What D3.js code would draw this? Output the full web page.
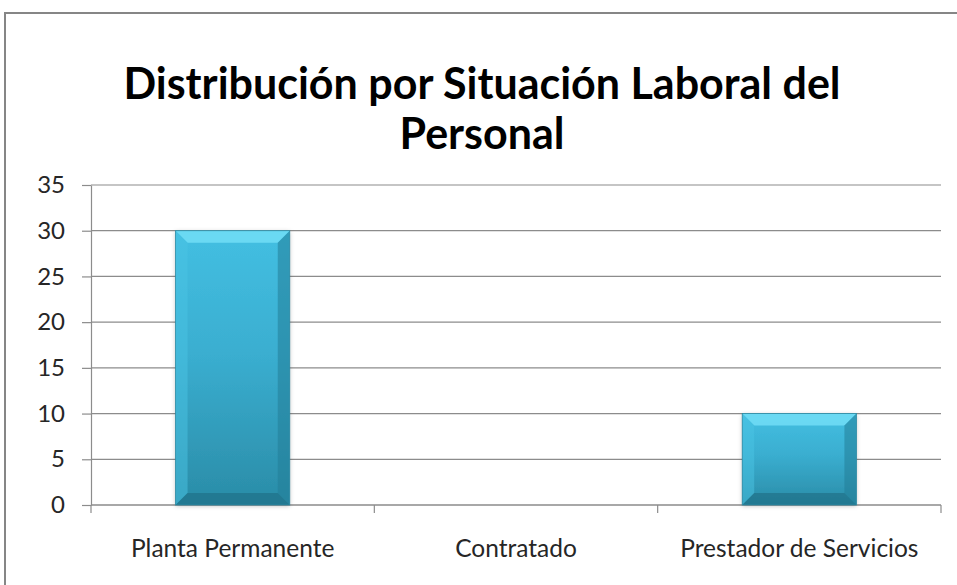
<!DOCTYPE html>
<html><head><meta charset="utf-8">
<script src="https://cdn.jsdelivr.net/npm/d3@7"></script>
<style>html,body{margin:0;padding:0;background:#fff;}svg{display:block;}</style>
</head><body>
<svg id="c" width="957" height="585"></svg>
<script>
const titleLines = ["Distribución por Situación Laboral del", "Personal"];
const categories = ["Planta Permanente", "Contratado", "Prestador de Servicios"];
const values = [30, 0, 10];
const yTicks = [0, 5, 10, 15, 20, 25, 30, 35];

const svg = d3.select("#c");
const W = 957, H = 585;
const m = {left: 91, right: 941, top: 185, bottom: 505};
const font = "Lato, 'Open Sans', sans-serif";

// chart border
svg.append("rect").attr("x", 5).attr("y", 13).attr("width", W + 20).attr("height", H + 20)
  .attr("fill", "#fff").attr("stroke", "#868686").attr("stroke-width", 2);

const x = d3.scaleBand().domain(categories).range([m.left, m.right]).padding(0);
const y = d3.scaleLinear().domain([0, 35]).range([m.bottom, m.top]);

// gridlines
svg.append("g").selectAll("line").data(yTicks).join("line")
  .attr("x1", m.left).attr("x2", m.right)
  .attr("y1", d => y(d)).attr("y2", d => y(d))
  .attr("stroke", "#8c8c8c").attr("stroke-width", 1.2);

// y axis
const yAxis = svg.append("g").attr("transform", `translate(${m.left},0)`)
  .call(d3.axisLeft(y).tickValues(yTicks).tickSize(9).tickPadding(17).tickSizeOuter(0));
yAxis.select(".domain").attr("stroke", "#8c8c8c").attr("stroke-width", 1.2);
yAxis.selectAll(".tick line").attr("stroke", "#8c8c8c").attr("stroke-width", 1.2);
yAxis.selectAll(".tick text").attr("font-family", font).attr("font-size", 24).attr("fill", "#262626");

// x axis baseline and ticks at category boundaries
const bounds = categories.map(c => x(c)).concat([x(categories[categories.length - 1]) + x.bandwidth()]);
svg.append("line").attr("x1", m.left).attr("x2", m.right).attr("y1", y(0)).attr("y2", y(0))
  .attr("stroke", "#8c8c8c").attr("stroke-width", 1.2);
svg.append("g").selectAll("line").data(bounds).join("line")
  .attr("x1", d => d).attr("x2", d => d).attr("y1", y(0)).attr("y2", y(0) + 8)
  .attr("stroke", "#8c8c8c").attr("stroke-width", 1.2);
svg.append("g").selectAll("text").data(categories).join("text")
  .attr("x", d => x(d) + x.bandwidth() / 2).attr("y", 557)
  .attr("text-anchor", "middle").attr("font-family", font).attr("font-size", 24.5)
  .attr("fill", "#262626").text(d => d);

// gradients
const defs = svg.append("defs");
const g1 = defs.append("linearGradient").attr("id", "face").attr("x1", 0).attr("y1", 0).attr("x2", 0).attr("y2", 1);
g1.append("stop").attr("offset", "0%").attr("stop-color", "#43bfe2");
g1.append("stop").attr("offset", "45%").attr("stop-color", "#3aaed0");
g1.append("stop").attr("offset", "100%").attr("stop-color", "#2a8ca7");
const f = defs.append("filter").attr("id", "sh").attr("x", "-20%").attr("y", "-20%").attr("width", "140%").attr("height", "140%");
f.append("feDropShadow").attr("dx", 0).attr("dy", 1).attr("stdDeviation", 2).attr("flood-color", "#000").attr("flood-opacity", 0.25);

const barW = x.bandwidth() * 0.403;
const bars = svg.append("g");
categories.forEach((c, i) => {
  const v = values[i];
  if (v <= 0) return;
  const x0 = x(c) + (x.bandwidth() - barW) / 2, x1 = x0 + barW;
  const y0 = y(v), y1 = y(0);
  const b = Math.min(12, (y1 - y0) / 2);
  const g = bars.append("g");
  g.append("rect").attr("x", x0).attr("y", y0).attr("width", barW).attr("height", y1 - y0)
    .attr("fill", "url(#face)").attr("filter", "url(#sh)");
  const poly = pts => g.append("polygon").attr("points", pts.map(p => p.join(",")).join(" "));
  poly([[x0, y0], [x1, y0], [x1 - b, y0 + b], [x0 + b, y0 + b]]).attr("fill", "#6fdcf5").attr("opacity", 0.9);
  poly([[x0, y0], [x0 + b, y0 + b], [x0 + b, y1 - b], [x0, y1]]).attr("fill", "#49c3e4").attr("opacity", 0.5);
  poly([[x1, y0], [x1, y1], [x1 - b, y1 - b], [x1 - b, y0 + b]]).attr("fill", "#237e97").attr("opacity", 0.55);
  poly([[x0, y1], [x1, y1], [x1 - b, y1 - b], [x0 + b, y1 - b]]).attr("fill", "#1f6f86").attr("opacity", 0.65);
  g.append("rect").attr("x", x0).attr("y", y0).attr("width", barW).attr("height", y1 - y0)
    .attr("fill", "none").attr("stroke", "#2d8aa3").attr("stroke-width", 0.8);
});

// title
const t = svg.append("text").attr("text-anchor", "middle").attr("font-family", font)
  .attr("font-weight", "bold").attr("font-size", 43).attr("fill", "#000");
titleLines.forEach((s, i) => t.append("tspan").attr("x", 482).attr("y", 99 + i * 50).text(s));
</script>
</body></html>
